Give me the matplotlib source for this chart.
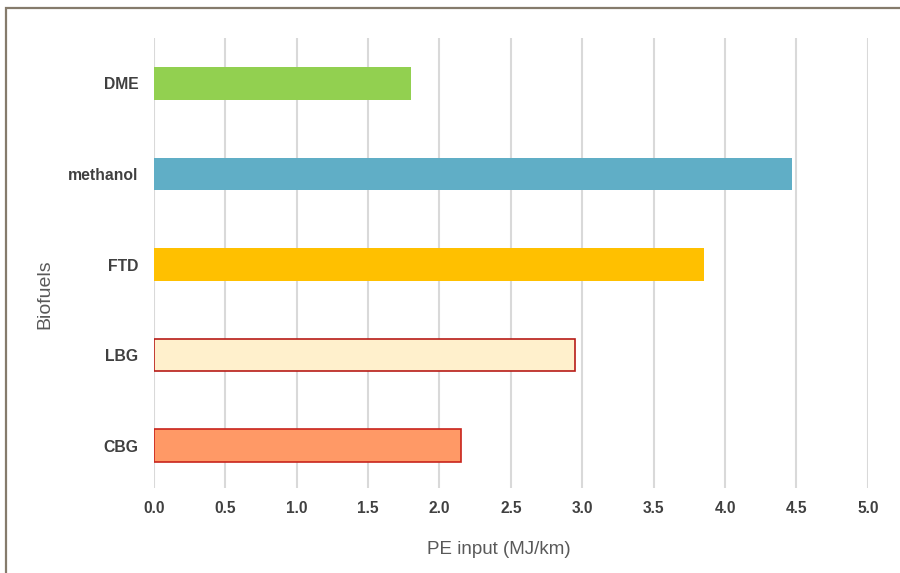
import matplotlib.pyplot as plt
from matplotlib.patches import Rectangle

plt.rcParams['font.family'] = ['Liberation Sans', 'DejaVu Sans']

# Data
fuels = ['CBG', 'LBG', 'FTD', 'methanol', 'DME']
pe_input = [2.15, 2.95, 3.85, 4.47, 1.8]
fill_colors = ['#ff9966', '#fff0cc', '#ffc000', '#60aec6', '#92d050']
edge_colors = ['#c8241c', '#b81c18', 'none', 'none', 'none']
x_ticks = [0.0, 0.5, 1.0, 1.5, 2.0, 2.5, 3.0, 3.5, 4.0, 4.5, 5.0]

fig = plt.figure(figsize=(9, 5.73), dpi=100)
ax = fig.add_axes([0.171, 0.148, 0.7933, 0.7854])

for i, (val, fc, ec) in enumerate(zip(pe_input, fill_colors, edge_colors)):
    ax.barh(i, val, height=0.36, color=fc,
            edgecolor=ec, linewidth=1.2 if ec != 'none' else 0, zorder=3)

ax.set_xlim(0, 5.0)
ax.set_ylim(-0.47, 4.5)
ax.set_xticks(x_ticks)
ax.set_xticklabels([f'{t:.1f}' for t in x_ticks], fontsize=11.2,
                   fontweight='bold', color='#404040')
ax.set_yticks(range(len(fuels)))
ax.set_yticklabels(fuels, fontsize=11.3, fontweight='bold', color='#404040')
ax.tick_params(axis='both', length=0)
ax.tick_params(axis='x', pad=9)
ax.tick_params(axis='y', pad=11)

ax.grid(True, axis='x', color='#d9d9d9', linewidth=1.5, zorder=0)
ax.set_axisbelow(True)
for s in ax.spines.values():
    s.set_visible(False)

ax.set_xlabel('PE input (MJ/km)', fontsize=13.5, color='#595959')
ax.set_ylabel('Biofuels', fontsize=14, color='#595959')
ax.xaxis.set_label_coords(0.483, -0.118)
ax.yaxis.set_label_coords(-0.141, 0.431)

# Outer frame
fig.patches.append(Rectangle((6 / 900, -0.05), 1.0, 1 - 8 / 573 + 0.05,
                             transform=fig.transFigure, fill=False,
                             edgecolor='#857b6c', linewidth=1.6))

plt.savefig('out.png', dpi=100)
